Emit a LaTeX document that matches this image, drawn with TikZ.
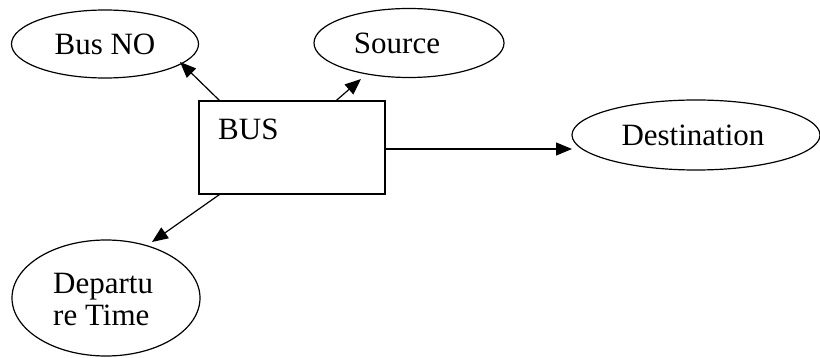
\documentclass[tikz,border=0pt]{standalone}
\usepackage{fontspec}
\setmainfont{Liberation Serif}
\usetikzlibrary{shapes.geometric,arrows.meta}
\begin{document}
\begin{tikzpicture}[x=1pt,y=-1pt,
  every node/.style={font=\fontsize{31}{32}\selectfont},
  attr/.style={draw,ellipse,line width=1.2pt,inner sep=0pt},
  entity/.style={draw,rectangle,line width=1.2pt,inner sep=0pt},
  link/.style={line width=1.2pt,-{Triangle[length=16pt,width=13pt]}}]
\useasboundingbox (0,0) rectangle (820,358);
\node[attr,minimum width=187pt,minimum height=68pt] (busno) at (105,44) {Bus NO};
\node[attr,minimum width=190pt,minimum height=69pt] (source) at (409,43) {};
\node (sourcet) at (397,43) {Source};
\node[attr,minimum width=248pt,minimum height=70pt] (dest) at (696,135) {};
\node (destt) at (693,135) {Destination};
\node[attr,minimum width=188pt,minimum height=116pt] (dep) at (106,298) {};
\node[align=left,anchor=west,inner sep=0pt] (dept) at (53,300) {Departu\\re Time};
\node[entity,minimum width=186pt,minimum height=93pt] (bus) at (292,147.5) {};
\node[anchor=base west,inner sep=0pt] (bust) at (218,140) {BUS};
\coordinate (tb) at (180,62);
\coordinate (ts) at (361,79);
\coordinate (td) at (572,149);
\coordinate (tt) at (152,242);
\draw[link] ([xshift=21pt]bus.north west) -- (tb);
\draw[link] ([xshift=138pt]bus.north west) -- (ts);
\draw[link] (bus.east |- td) -- (td);
\draw[link] ([xshift=21pt]bus.south west) -- (tt);
\end{tikzpicture}
\end{document}
